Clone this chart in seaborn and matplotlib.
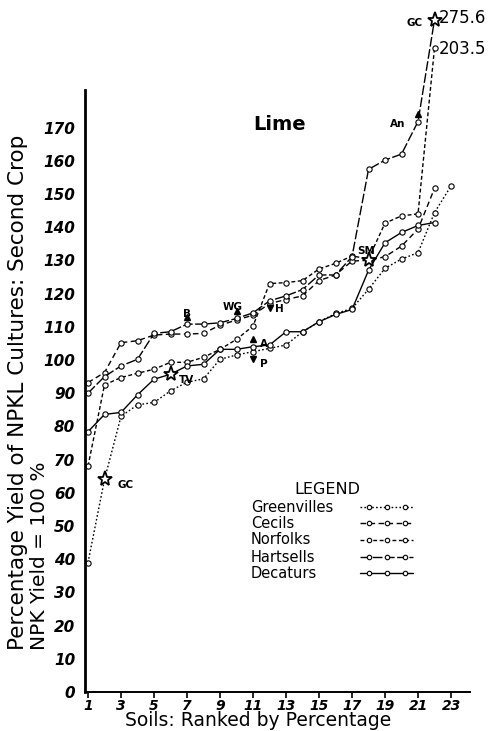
import numpy as np
import pandas as pd
import matplotlib
matplotlib.use("Agg")
import matplotlib.pyplot as plt
import seaborn as sns
from matplotlib.lines import Line2D

# ---------------- data ----------------
soils = ["Greenvilles", "Cecils", "Norfolks", "Hartsells", "Decaturs"]
greenvilles = [39, 64, 83, 86.5, 87.2, 90.7, 93.3, 94.3, 100.2, 101.5, 102.5, 103.5,
               104.5, 108.5, 111.5, 114, 115.5, 121.3, 127.6, 130.4, 132.3, 144.4, 152.4]
cecils = [93.2, 96.2, 105.2, 105.8, 107.5, 107.8, 107.8, 108, 110.5, 112, 113.5, 117,
          118.2, 119.3, 123.9, 125.6, 129.8, 130, 131.1, 134.3, 139.4, 151.7]
norfolks = [68, 92.5, 94.7, 96, 97.2, 99.3, 99.3, 100.8, 103.2, 106.2, 110.2, 123,
            123.3, 123.9, 127.4, 129.1, 131.3, 130.5, 141.2, 143.4, 144, 203.5]
hartsells = [90, 95, 98.2, 100.2, 108, 108.5, 110.8, 110.8, 111.2, 112.5, 114.2, 117.8,
             119.3, 121.2, 125.6, 125.6, 131.1, 157.4, 160.2, 162, 171.8, 275.6]
decaturs = [78.4, 83.6, 84.2, 89.5, 94.2, 95.7, 98.2, 98.7, 103.2, 103.2, 104, 104.5,
            108.5, 108.5, 111.5, 113.7, 115.2, 127, 135.3, 138.4, 140.5, 141.4]
series = dict(zip(soils, [greenvilles, cecils, norfolks, hartsells, decaturs]))

# special soils marked on the curves
mark_labels = ["GC", "TV", "SM", "GC", "B", "WG", "H", "A", "P", "An"]
mark_series = ["Greenvilles", "Decaturs", "Cecils", "Hartsells", "Hartsells",
               "Hartsells", "Hartsells", "Decaturs", "Greenvilles", "Hartsells"]
mark_ranks = [2, 6, 18, 22, 7, 10, 12, 11, 11, 21]
mark_kinds = ["*", "*", "*", "*", "^", "^", "v", "^", "v", "^"]

x_ticks = list(range(1, 24, 2))
y_ticks = list(range(0, 171, 10))

rows = []
for s in soils:
    for i, v in enumerate(series[s]):
        rows.append({"soil": s, "rank": i + 1, "pct": v})
df = pd.DataFrame(rows)

# ---------------- style ----------------
sns.set_theme(style="white")
plt.rcParams["font.family"] = ["DejaVu Sans"]
for k in ["text.color", "axes.labelcolor", "xtick.color", "ytick.color", "axes.edgecolor"]:
    plt.rcParams[k] = "black"

dash_map = {"Greenvilles": (1.2, 1.6), "Cecils": (4, 2.5), "Norfolks": (2.8, 1.8),
            "Hartsells": (7, 1.8), "Decaturs": ""}

fig = plt.figure(figsize=(4.91, 7.31), dpi=100)
ax = fig.add_axes([85 / 491, 39 / 731, 385 / 491, 682 / 731])

# compressed scale above the top tick (the original squeezes off-scale values in)
BRK, A_, B_ = 175.0, 6.97, 2.0
def fwd(v):
    v = np.asarray(v, float)
    d = np.maximum(v - BRK, 0)
    return np.where(v <= BRK, v, BRK + A_ * np.log1p(d / B_))
def inv(u):
    u = np.asarray(u, float)
    d = np.clip(u - BRK, 0, 80)
    return np.where(u <= BRK, u, BRK + B_ * np.expm1(d / A_))
ax.set_yscale("function", functions=(fwd, inv))

sns.lineplot(data=df, x="rank", y="pct", style="soil", style_order=soils,
             dashes=dash_map, markers={s: "o" for s in soils}, color="black",
             linewidth=1.0, markersize=3.8, markeredgecolor="black",
             markeredgewidth=0.8, estimator=None, legend=False, ax=ax)
for ln in ax.lines:
    ln.set_markerfacecolor("white")

# special markers and their labels
offsets = {"GC": (9, -4), "TV": (6, -4), "SM": (-8, 7), "B": (-3, 7), "WG": (-10, 8),
           "H": (4, -6), "A": (5, 2), "P": (5, -9), "An": (-20, -2)}
for k, (lab, s, r, kind) in enumerate(zip(mark_labels, mark_series, mark_ranks, mark_kinds)):
    v = series[s][r - 1]
    if kind == "*":
        ax.plot([r], [v], marker="*", ms=11, mfc="white", mec="black", mew=1.3,
                zorder=5, clip_on=False)
    else:
        dy = 2.2 if kind == "^" else -2.2
        ax.plot([r], [v + dy], marker=kind, ms=4.5, color="black", zorder=5)
    off = (-20, -2) if k == 3 else offsets[lab]
    ax.annotate(lab, (r, v), xytext=off, textcoords="offset points",
                fontsize=7.5, fontweight="bold", ha="left", va="center")

# off-scale values written in
for s in ["Hartsells", "Norfolks"]:
    v = series[s][-1]
    ax.annotate(f"{v:.1f}", (len(series[s]), v), xytext=(3, 1 if s == "Hartsells" else -1),
                textcoords="offset points", fontsize=12, ha="left", va="center",
                annotation_clip=False)

ax.set_xlim(0.818, 24.15)
ax.set_ylim(0, float(inv(205.4)))
ax.set_xticks(x_ticks)
ax.set_yticks(y_ticks)
ax.set_xticklabels([str(t) for t in x_ticks], fontsize=10, fontweight="bold", style="italic")
ax.set_yticklabels([str(t) for t in y_ticks], fontsize=11, fontweight="bold", style="italic")
ax.tick_params(axis="y", length=0, pad=7)
ax.tick_params(axis="x", length=4, width=1.2, direction="out", pad=1, bottom=True)
for sp in ["top", "right"]:
    ax.spines[sp].set_visible(False)
ax.spines["left"].set_linewidth(2.0)
ax.spines["left"].set_bounds(0, 178)
ax.spines["bottom"].set_linewidth(1.4)
ax.set_xlabel("")
ax.set_ylabel("")
ax.patch.set_alpha(0)

fig.text(280 / 491, 1 - 125 / 731, "Lime", ha="center", va="center",
         fontsize=14, fontweight="bold")
fig.text(258 / 491, 1 - 721 / 731, "Soils: Ranked by Percentage", ha="center",
         va="center", fontsize=13.5)
fig.text(18 / 491, 1 - 650 / 731, "Percentage Yield of NPKL Cultures: Second Crop",
         rotation=90, ha="center", va="bottom", fontsize=15.5)
fig.text(40 / 491, 1 - 650 / 731, "NPK Yield = 100 %", rotation=90, ha="center",
         va="bottom", fontsize=14.5)

# hand-drawn style legend: label on the left, line sample on the right
fig.text(327 / 491, 1 - 489 / 731, "LEGEND", ha="center", va="center", fontsize=11.5)
leg_rows = [507, 523, 540, 557, 573]
for s, yy in zip(soils, leg_rows):
    yf = 1 - yy / 731
    fig.text(251 / 491, yf, s, ha="left", va="center", fontsize=10.5)
    ln = Line2D([360 / 491, 413 / 491], [yf, yf], transform=fig.transFigure,
                color="black", lw=1.0)
    if dash_map[s]:
        ln.set_dashes(dash_map[s])
    fig.add_artist(ln)
    mk = Line2D(np.array([369, 387, 405]) / 491, [yf] * 3, transform=fig.transFigure,
                linestyle="none", marker="o", ms=3.2, mfc="white", mec="black", mew=0.8)
    fig.add_artist(mk)

fig.savefig("out.png", dpi=100, facecolor="white")
